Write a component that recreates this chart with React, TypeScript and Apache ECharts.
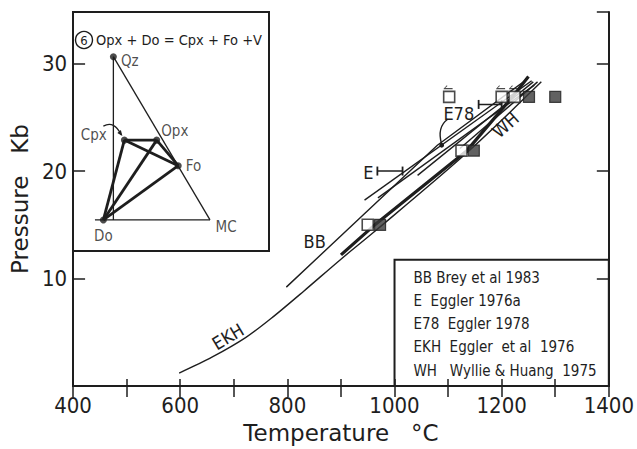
import React, { useEffect, useRef } from "react";
import * as echarts from "echarts";

const FONT = "'DejaVu Sans Condensed', 'DejaVu Sans', sans-serif";
const NAME_FONT = "'DejaVu Sans', sans-serif";
const INK = "#1e1e1e";

// ---- axes ----
const tempMin = 400;
const tempMax = 1400;
const tempTickStep = 100;
const tempLabelStep = 200;
const pressMin = 0;
const pressMax = 34.8;
const pressTickStep = 10;

// ---- reaction curves [T °C, P kb] ----
const ekhCurve = [[598, 1.2], [660, 2.7], [722, 4.5], [770, 6.3], [830, 8.8], [900, 11.8], [961, 14.3], [1135, 21.7], [1274, 28.3]];
const presentCurve = [[900, 12.2], [961, 14.9], [1135, 21.9], [1220, 26.9], [1250, 28.8]];
const bbCurve = [[798, 9.2], [1080, 22.4], [1246, 28.5]];
const e78Upper = [[944, 17.3], [1256, 28.4]];
const e78Lower = [[969, 17.5], [1261, 28.0]];
const whCurve1 = [[1043, 19.6], [1259, 28.3]];
const whCurve2 = [[1122, 22.1], [1267, 28.3]];

// ---- experiments ----
const openSquares = [[950, 15], [1125, 21.9], [1102, 26.9], [1200, 26.9], [1224, 26.9]];
const filledSquares = [[973, 15], [1148, 21.9], [1251, 26.9], [1300, 26.9]];
const arrowMarks = [[1100, 27.8], [1198, 27.8], [1222, 27.8]];
const eBracket = [[968, 20], [1015, 20]];
const e78Bracket = [[1157, 26.2], [1200, 26.2]];

// ---- curve labels ----
const curveLabelText = ["BB", "E", "E78", "EKH", "WH"];
const curveLabelT = [851, 951, 1120, 689, 1207];
const curveLabelP = [13.4, 19.9, 25.4, 4.6, 24.3];
const curveLabelRot = [0, 0, 0, 31, 42];
const e78ArrowTarget = [1088, 22.4];

// ---- key ----
const keyAbbr = ["BB", "E", "E78", "EKH", "WH"];
const keyRef = ["Brey et al 1983", " Eggler 1976a", " Eggler 1978", " Eggler  et al  1976", "  Wyllie & Huang  1975"];
const keyBox = [[1000, 11.75], [1400, 0]];

// ---- inset ternary (schematic, 0..1) ----
const insetNumber = "6";
const insetTitle = "Opx + Do = Cpx + Fo +V";
const phaseNames = ["Qz", "Cpx", "Opx", "Fo", "Do", "MC"];
const phaseX = [0.206, 0.262, 0.427, 0.537, 0.155, 0.699];
const phaseY = [0.813, 0.464, 0.464, 0.357, 0.13, 0.13];
const frameLines = [
  [[0.206, 0.813], [0.206, 0.13]],
  [[0.206, 0.813], [0.699, 0.13]],
  [[0.112, 0.13], [0.699, 0.13]],
];
const tieLines = [["Do", "Cpx"], ["Do", "Opx"], ["Do", "Fo"], ["Cpx", "Opx"], ["Cpx", "Fo"], ["Opx", "Fo"]];

const labelPlace: Record<string, any> = {
  Qz: { position: "right", distance: 4, offset: [0, 4] },
  Cpx: { position: "left", distance: 14, offset: [0, -5] },
  Opx: { position: "right", distance: 1, offset: [0, -9] },
  Fo: { position: "right", distance: 4, offset: [0, 0] },
  Do: { position: "bottom", distance: 5, offset: [0, 0] },
  MC: { position: "right", distance: 5, offset: [0, 7] },
};

const phasePos = (n: string) => {
  const i = phaseNames.indexOf(n);
  return [phaseX[i], phaseY[i]];
};

function mainLine(name: string, data: number[][], width: number, smooth = 0) {
  return {
    type: "line",
    name,
    data,
    xAxisIndex: 0,
    yAxisIndex: 0,
    symbol: "none",
    showSymbol: false,
    smooth,
    lineStyle: { color: INK, width },
    z: 3,
    silent: true,
  };
}

function insetLine(data: number[][], width: number) {
  return {
    type: "line",
    data,
    xAxisIndex: 2,
    yAxisIndex: 2,
    symbol: "none",
    showSymbol: false,
    lineStyle: { color: INK, width },
    z: 4,
    silent: true,
  };
}

function buildOption() {
  const axisLine = { lineStyle: { color: INK, width: 2 } };
  const tickStyle = { color: INK, width: 1.5 };
  const series: any[] = [
    mainLine("EKH", ekhCurve, 1.4, 0.3),
    mainLine("present", presentCurve, 3.2),
    mainLine("BB", bbCurve, 1.4),
    mainLine("E78a", e78Upper, 1.4),
    mainLine("E78b", e78Lower, 1.4),
    mainLine("WH1", whCurve1, 1.4),
    mainLine("WH2", whCurve2, 1.4),
    {
      type: "line",
      data: eBracket,
      xAxisIndex: 0,
      yAxisIndex: 0,
      symbol: "rect",
      symbolSize: [1.8, 9],
      showSymbol: true,
      itemStyle: { color: INK },
      lineStyle: { color: INK, width: 1.5 },
      z: 3,
    },
    {
      type: "line",
      data: e78Bracket,
      xAxisIndex: 0,
      yAxisIndex: 0,
      symbol: "rect",
      symbolSize: [1.8, 9],
      showSymbol: true,
      itemStyle: { color: INK },
      lineStyle: { color: INK, width: 1.5 },
      z: 3,
    },
    {
      type: "scatter",
      data: openSquares,
      xAxisIndex: 0,
      yAxisIndex: 0,
      symbol: "rect",
      symbolSize: 11,
      itemStyle: { color: "#ffffff", borderColor: INK, borderWidth: 1.6 },
      z: 5,
    },
    {
      type: "scatter",
      data: filledSquares,
      xAxisIndex: 0,
      yAxisIndex: 0,
      symbol: "rect",
      symbolSize: 11,
      itemStyle: { color: "#3a3a3a", borderColor: INK, borderWidth: 1.2 },
      z: 5,
    },
    {
      type: "scatter",
      data: arrowMarks,
      xAxisIndex: 0,
      yAxisIndex: 0,
      symbol: "path://M0,5 L5,0 L6,1 L2.6,4 L14,4 L14,5.6 L0,5.6 Z",
      symbolSize: [9, 4],
      itemStyle: { color: INK },
      z: 5,
    },
  ];

  frameLines.forEach((seg) => series.push(insetLine(seg, 1.3)));
  tieLines.forEach(([a, b]) => series.push(insetLine([phasePos(a), phasePos(b)], 2.8)));
  series.push({
    type: "scatter",
    name: "phases",
    xAxisIndex: 2,
    yAxisIndex: 2,
    z: 6,
    data: phaseNames.map((n, i) => ({
      name: n,
      value: [phaseX[i], phaseY[i]],
      symbolSize: n === "MC" ? 1 : 7,
      itemStyle: { color: n === "MC" ? "rgba(0,0,0,0)" : INK },
      label: {
        show: true,
        formatter: n,
        color: INK,
        fontFamily: FONT,
        fontSize: 15,
        ...labelPlace[n],
      },
    })),
  });

  return {
    animation: false,
    backgroundColor: "#ffffff",
    grid: [
      { left: 73, right: 24, top: 12, bottom: 58, show: false, z: 0 },
      {
        left: 73,
        top: 12,
        width: 196,
        height: 239,
        show: true,
        backgroundColor: "#ffffff",
        borderColor: INK,
        borderWidth: 2,
        z: 1,
      },
    ],
    xAxis: [
      {
        gridIndex: 0,
        type: "value",
        position: "bottom",
        min: tempMin,
        max: tempMax,
        interval: tempTickStep,
        axisLine,
        axisTick: { inside: true, length: 7, lineStyle: tickStyle },
        axisLabel: {
          formatter: (v: number) => (v % tempLabelStep === 0 ? String(v) : ""),
          fontSize: 22,
          fontFamily: FONT,
          color: INK,
          margin: 8,
        },
        splitLine: { show: false },
        name: "Temperature   \u00B0C",
        nameLocation: "middle",
        nameGap: 35,
        nameTextStyle: { fontFamily: NAME_FONT, fontSize: 23, color: INK },
        z: 5,
      },
      {
        gridIndex: 0,
        type: "value",
        position: "top",
        min: tempMin,
        max: tempMax,
        interval: tempTickStep,
        axisLine,
        axisTick: { inside: true, length: 11, lineStyle: tickStyle },
        axisLabel: { show: false },
        splitLine: { show: false },
        z: 5,
      },
      { gridIndex: 1, type: "value", min: 0, max: 1, show: false },
    ],
    yAxis: [
      {
        gridIndex: 0,
        type: "value",
        position: "left",
        min: pressMin,
        max: pressMax,
        interval: pressTickStep,
        axisLine,
        axisTick: { inside: true, length: 12, lineStyle: tickStyle },
        axisLabel: {
          formatter: (v: number) => (v > 0 && v % pressTickStep === 0 ? String(v) : ""),
          fontSize: 22,
          fontFamily: FONT,
          color: INK,
          margin: 6,
        },
        splitLine: { show: false },
        name: "Pressure   Kb",
        nameLocation: "middle",
        nameGap: 39,
        nameTextStyle: { fontFamily: NAME_FONT, fontSize: 23, color: INK },
        z: 5,
      },
      {
        gridIndex: 0,
        type: "value",
        position: "right",
        min: pressMin,
        max: pressMax,
        interval: pressTickStep,
        axisLine,
        axisTick: { inside: true, length: 12, lineStyle: tickStyle },
        axisLabel: { show: false },
        splitLine: { show: false },
        z: 5,
      },
      { gridIndex: 1, type: "value", min: 0, max: 1, show: false },
    ],
    series,
  };
}

function textEl(text: string, x: number, y: number, size: number, rotDeg = 0, align = "center", family = FONT) {
  return {
    type: "text",
    x,
    y,
    rotation: (rotDeg * Math.PI) / 180,
    z: 20,
    style: {
      text,
      fill: INK,
      font: `${size}px ${family}`,
      textAlign: align,
      textVerticalAlign: "middle",
      align,
      verticalAlign: "middle",
    },
  };
}

function buildGraphic(chart: any) {
  const P = (t: number, p: number) => chart.convertToPixel({ seriesIndex: 0 }, [t, p]);
  const phaseSeriesIndex = 11 + frameLines.length + tieLines.length;
  const Q = (v: number[]) => chart.convertToPixel({ seriesIndex: phaseSeriesIndex }, v);
  const els: any[] = [];

  // key box
  const tl = P(keyBox[0][0], keyBox[0][1]);
  const br = P(keyBox[1][0], keyBox[1][1]);
  els.push({
    type: "rect",
    shape: { x: tl[0], y: tl[1], width: br[0] - tl[0], height: br[1] - tl[1] },
    style: { fill: "none", stroke: INK, lineWidth: 2 },
    z: 15,
  });
  keyAbbr.forEach((a, i) => {
    els.push(textEl(`${a} ${keyRef[i]}`, tl[0] + 19, tl[1] + 18 + i * 23.2, 15, 0, "left"));
  });

  // curve labels
  curveLabelText.forEach((t, i) => {
    const p = P(curveLabelT[i], curveLabelP[i]);
    els.push(textEl(t, p[0], p[1], 18, curveLabelRot[i]));
  });

  // E78 pointer
  const tgt = P(e78ArrowTarget[0], e78ArrowTarget[1]);
  els.push({
    type: "bezierCurve",
    shape: { x1: tgt[0] + 6, y1: tgt[1] - 26, cpx1: tgt[0] - 5, cpy1: tgt[1] - 18, x2: tgt[0], y2: tgt[1] - 1 },
    style: { stroke: INK, lineWidth: 1.4, fill: "none" },
    z: 20,
  });
  els.push({ type: "circle", shape: { cx: tgt[0], cy: tgt[1], r: 2.4 }, style: { fill: INK }, z: 20 });

  // inset title: circled number + reaction
  els.push({ type: "circle", shape: { cx: 84, cy: 40, r: 8.5 }, style: { fill: "none", stroke: INK, lineWidth: 1.4 }, z: 20 });
  els.push(textEl(insetNumber, 84, 40.5, 13, 0, "center"));
  els.push(textEl(insetTitle, 96, 40, 14.5, 0, "left"));

  // Cpx pointer in inset
  const cpx = Q(phasePos("Cpx"));
  const end = [cpx[0] - 3, cpx[1] - 5];
  els.push({
    type: "bezierCurve",
    shape: { x1: cpx[0] - 21, y1: cpx[1] - 14, cpx1: cpx[0] - 10, cpy1: cpx[1] - 20, x2: end[0], y2: end[1] },
    style: { stroke: INK, lineWidth: 1.2, fill: "none" },
    z: 20,
  });
  els.push({
    type: "polygon",
    shape: { points: [[end[0] + 1, end[1] + 1], [end[0] - 4, end[1] - 2], [end[0] - 0.5, end[1] - 5]] },
    style: { fill: INK },
    z: 20,
  });

  return els;
}

export default function App() {
  const ref = useRef<HTMLDivElement>(null);
  useEffect(() => {
    const chart = echarts.init(ref.current!, null, { renderer: "svg" });
    chart.setOption(buildOption());
    chart.setOption({ graphic: buildGraphic(chart) });
    return () => chart.dispose();
  }, []);
  return (
    <div
      ref={ref}
      style={{ position: "absolute", left: 0, top: 0, width: 637, height: 449, background: "#fff" }}
    />
  );
}
